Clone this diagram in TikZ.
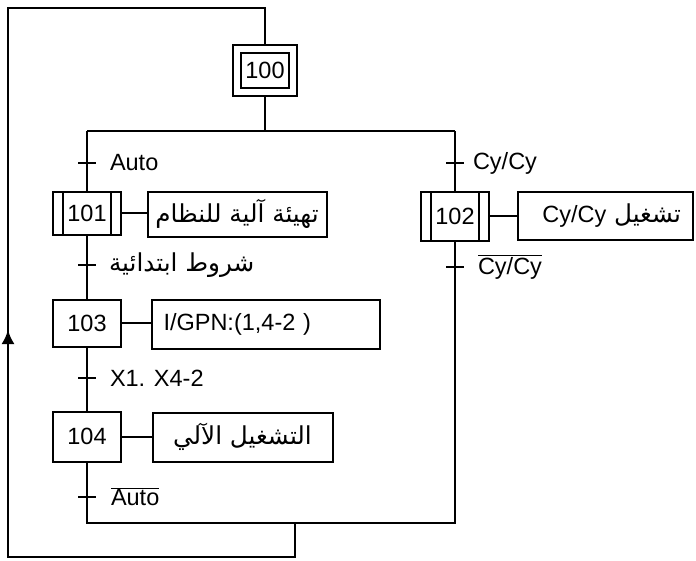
\documentclass[tikz,border=0pt]{standalone}
\usepackage{fontspec}
\setmainfont{Liberation Sans}
\newfontfamily\arabicfont[Script=Arabic, Scale=1.05]{DejaVu Sans}
\TeXXeTstate=1
\usetikzlibrary{arrows.meta, positioning}
\tikzset{stepbox/.style={draw, inner sep=0pt, minimum width=68pt, minimum height=47pt}}
\tikzset{initstep/.style={stepbox, double, double distance=6pt, minimum width=56pt, minimum height=43pt}}
\tikzset{macrostep/.style={stepbox, path picture={
    \draw[line width=2pt] ([xshift=10pt]path picture bounding box.north west) -- ([xshift=10pt]path picture bounding box.south west);
    \draw[line width=2pt] ([xshift=-10pt]path picture bounding box.north east) -- ([xshift=-10pt]path picture bounding box.south east);}}}
\tikzset{action/.style={draw, inner sep=0pt, minimum height=49pt}}
\tikzset{tick/.style={line width=2pt}}
\tikzset{trlabel/.style={inner sep=0pt}}
\begin{document}
\begin{tikzpicture}[x=1pt, y=-1pt, line width=2pt, font=\fontsize{23.5}{28}\selectfont]
    \useasboundingbox (0,0) rectangle (696,560);
    % steps
    \node[initstep] (s100) at (265,70) {100};
    \node[macrostep, minimum height=43pt] (s101) at (87,213) {101};
    \node[macrostep, minimum height=49pt] (s102) at (455,216) {102};
    \node[stepbox] (s103) at (87,323) {103};
    \node[stepbox, minimum height=50pt] (s104) at (87,436.5) {104};
    % actions
    \node[action, minimum width=179pt, minimum height=45pt] (a101) at (237,214) {\arabicfont\beginR تهيئة آلية للنظام\endR};
    \node[action, minimum width=175pt, minimum height=48pt, text width=152pt, align=right] (a102) at (605,215.5) {\beginR{\arabicfont تشغيل} \beginL Cy/Cy\endL\endR};
    \node[action, minimum width=228pt, text width=204pt, align=left] (a103) at (265.5,324) {I/GPN:(1,4-2 )};
    \node[action, minimum width=180pt] (a104) at (242.5,437) {\arabicfont\beginR التشغيل الآلي\endR};
    % divergence and convergence
    \coordinate (dl) at (87,131);
    \coordinate (dr) at (455,131);
    \coordinate (cl) at (87,523);
    \coordinate (cr) at (455,523);
    \coordinate (cm) at (295,523);
    \coordinate (lb) at (8,557);
    \coordinate (lt) at (8,8);
    \coordinate (up) at (8,330);
    % transitions
    \coordinate (t1) at (87,163);
    \coordinate (t2) at (87,265);
    \coordinate (t3) at (87,378);
    \coordinate (t4) at (87,497);
    \coordinate (t5) at (455,163);
    \coordinate (t6) at (455,267);
    \foreach \t in {t1, t2, t3, t4, t5, t6} {
        \draw[tick] ([xshift=-9pt]\t) -- ([xshift=9pt]\t);
    }
    \node[trlabel, right=22pt of t1] (l1) {Auto};
    \node[trlabel, right=21pt of t2] (l2) {\arabicfont\beginR شروط ابتدائية\endR};
    \node[trlabel, right=22pt of t3] (l3) {X1. X4-2};
    \node[trlabel, right=23pt of t4] (l4) {$\overline{\mbox{Auto}}$};
    \node[trlabel, right=17pt of t5] (l5) {Cy/Cy};
    \node[trlabel, right=22pt of t6] (l6) {$\overline{\mbox{Cy/Cy}}$};
    % links
    \draw ([yshift=-4pt]s100.south) -- (s100.south |- dl);
    \draw (dl) -- (dr);
    \draw (dl) -- (s101.north);
    \draw (s101.south) -- (s103.north);
    \draw (s103.south) -- (s104.north);
    \draw (s104.south) -- (cl) -- (cr) -- (s102.south);
    \draw (dr) -- (s102.north);
    \draw (s101.east) -- (s101.east -| a101.west);
    \draw (s102.east) -- (s102.east -| a102.west);
    \draw (s103.east) -- (s103.east -| a103.west);
    \draw (s104.east) -- (s104.east -| a104.west);
    \draw (cm) |- (lb) -- (lt) -| ([yshift=4pt]s100.north);
    \draw[-{Latex[length=14pt, width=13pt]}] (lb) -- (up);
\end{tikzpicture}
\end{document}
